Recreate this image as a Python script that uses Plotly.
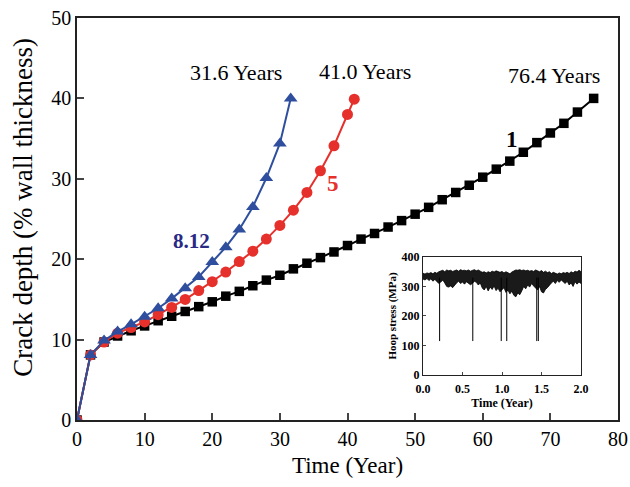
import plotly.graph_objects as go

# ---- main chart data ----
t_black = [0, 2, 4, 6, 8, 10, 12, 14, 16, 18, 20, 22, 24, 26, 28, 30, 32, 34, 36, 38,
           40, 42, 44, 46, 48, 50, 52, 54, 56, 58, 60, 62, 64, 66, 68, 70, 72, 74, 76.4]
d_black = [0, 8.1, 9.7, 10.45, 11.1, 11.7, 12.35, 12.9, 13.5, 14.1, 14.7, 15.4, 16.0, 16.7,
           17.4, 18.0, 18.8, 19.5, 20.2, 20.9, 21.7, 22.5, 23.2, 24.0, 24.8, 25.6, 26.45,
           27.4, 28.3, 29.2, 30.2, 31.2, 32.2, 33.3, 34.5, 35.7, 36.9, 38.3, 40.0]

t_red = [0, 2, 4, 6, 8, 10, 12, 14, 16, 18, 20, 22, 24, 26, 28, 30, 32, 34, 36, 38, 40, 41.0]
d_red = [0, 8.1, 9.7, 10.8, 11.5, 12.2, 13.1, 14.0, 15.0, 16.1, 17.2, 18.4, 19.7, 21.0,
         22.5, 24.2, 26.1, 28.3, 31.0, 34.1, 38.0, 39.9]

t_blue = [0, 2, 4, 6, 8, 10, 12, 14, 16, 18, 20, 22, 24, 26, 28, 30, 31.6]
d_blue = [0, 8.1, 9.9, 11.0, 11.9, 12.85, 13.9, 15.1, 16.4, 17.8, 19.65, 21.5, 23.7,
          26.5, 30.1, 34.4, 40.0]

x_ticks = [0, 10, 20, 30, 40, 50, 60, 70, 80]
y_ticks = [0, 10, 20, 30, 40, 50]

# ---- inset data (hoop stress envelope) ----
inset_t = [i * 0.025 for i in range(81)]
stress_upper = [345, 342, 346, 344, 347, 343, 348, 345, 350,
                352, 355, 350, 356, 353, 355, 351, 354,
                356, 352, 357, 354, 355, 353, 356, 352,
                355, 357, 353, 356, 352, 348, 350, 346,
                350, 347, 352, 349, 353, 350, 348, 351,
                346, 350, 347, 343, 349, 352, 356, 355,
                357, 354, 356, 353, 355, 352, 354, 351,
                356, 353, 350, 354, 348, 352, 347, 350,
                344, 348, 345, 342, 346, 343, 347, 345,
                348, 344, 350, 346, 352, 349, 355, 350]
stress_lower = [325, 322, 327, 320, 326, 318, 324, 316, 310,
                315, 322, 312, 300, 298, 302, 296, 305,
                312, 318, 310, 315, 308, 316, 312, 306,
                310, 318, 314, 305, 312, 295, 288, 300,
                285, 298, 290, 302, 286, 294, 282, 290,
                296, 280, 288, 275, 284, 270, 265, 278,
                272, 285, 300, 292, 305, 298, 310, 302,
                295, 288, 300, 282, 278, 290, 296, 305,
                312, 318, 310, 320, 314, 322, 316, 310,
                318, 305, 312, 300, 316, 308, 315, 310]
spike_t = [0.21, 0.63, 0.99, 1.06, 1.44, 1.46]
spike_top = [330, 330, 330, 330, 330, 330]
spike_low = [115, 115, 115, 115, 115, 115]

BLUE = "#2f4f9e"
RED = "#e5302b"
NAVY = "#2a2a86"
SERIF = "Liberation Serif, Times New Roman, serif"

fig = go.Figure()
fig.add_trace(go.Scatter(x=t_black, y=d_black, mode="lines+markers",
                         line=dict(color="black", width=2),
                         marker=dict(symbol="square", size=9.5, color="black"),
                         showlegend=False))
fig.add_trace(go.Scatter(x=t_red, y=d_red, mode="lines+markers",
                         line=dict(color=RED, width=2),
                         marker=dict(symbol="circle", size=11, color=RED),
                         showlegend=False))
fig.add_trace(go.Scatter(x=t_blue, y=d_blue, mode="lines+markers",
                         line=dict(color=BLUE, width=2),
                         marker=dict(symbol="triangle-up", size=12, color=BLUE),
                         showlegend=False))

# inset traces
fig.add_trace(go.Scatter(x=inset_t, y=stress_lower, mode="lines",
                         line=dict(color="black", width=0.8),
                         xaxis="x2", yaxis="y2", showlegend=False))
fig.add_trace(go.Scatter(x=inset_t, y=stress_upper, mode="lines",
                         line=dict(color="black", width=0.8), fill="tonexty",
                         fillcolor="#1a1a1a",
                         xaxis="x2", yaxis="y2", showlegend=False))
sx, sy = [], []
for ti, top, low in zip(spike_t, spike_top, spike_low):
    sx += [ti, ti, None]
    sy += [top, low, None]
fig.add_trace(go.Scatter(x=sx, y=sy, mode="lines", line=dict(color="black", width=1),
                         xaxis="x2", yaxis="y2", showlegend=False))

# annotations
ann = [
    dict(x=23.5, y=43.2, text="31.6 Years", font=dict(size=22, color="black")),
    dict(x=42.6, y=43.4, text="41.0 Years", font=dict(size=22, color="black")),
    dict(x=70.5, y=42.9, text="76.4 Years", font=dict(size=22, color="black")),
    dict(x=16.9, y=22.3, text="<b>8.12</b>", font=dict(size=21, color=NAVY)),
    dict(x=37.9, y=29.4, text="<b>5</b>", font=dict(size=23, color=RED)),
    dict(x=64.3, y=34.9, text="<b>1</b>", font=dict(size=23, color="black")),
]
for a in ann:
    a.update(xref="x", yref="y", showarrow=False, font=dict(family=SERIF, **a["font"]))
ann.append(dict(xref="paper", yref="paper", x=-0.1, y=0.53, xanchor="center", yanchor="middle",
                textangle=-90, showarrow=False, text="Crack depth (% wall thickness)",
                font=dict(family=SERIF, size=27, color="black")))

fig.update_layout(
    width=630, height=487,
    margin=dict(l=77, r=12, t=18, b=67),
    paper_bgcolor="white", plot_bgcolor="white",
    font=dict(family=SERIF, color="black"),
    annotations=ann,
    xaxis=dict(range=[0, 80], tickvals=x_ticks, ticks="inside", ticklen=7, tickwidth=1.5,
               showline=True, linecolor="#222", linewidth=1.5, mirror=True,
               showgrid=False, zeroline=False, automargin=False,
               tickfont=dict(size=20, family=SERIF),
               title=dict(text="Time (Year)", font=dict(size=23, family=SERIF), standoff=8)),
    yaxis=dict(range=[0, 50], tickvals=y_ticks, ticks="inside", ticklen=7, tickwidth=1.5,
               showline=True, linecolor="#222", linewidth=1.5, mirror=True,
               showgrid=False, zeroline=False, automargin=False,
               tickfont=dict(size=20, family=SERIF)),
    xaxis2=dict(domain=[0.6396, 0.9316], anchor="y2", range=[0, 2],
                tickvals=[0, 0.5, 1.0, 1.5, 2.0], ticktext=["0.0", "0.5", "1.0", "1.5", "2.0"],
                ticks="inside", ticklen=3, showline=True, linecolor="#222", linewidth=1.2,
                mirror=True, showgrid=False, zeroline=False, automargin=False,
                ticklabelstandoff=3,
                tickfont=dict(size=12, family=SERIF, weight="bold"),
                title=dict(text="Time (Year)", font=dict(size=12, family=SERIF, weight="bold"),
                           standoff=0)),
    yaxis2=dict(domain=[0.112, 0.4055], anchor="x2", range=[0, 400],
                tickvals=[0, 100, 200, 300, 400],
                ticks="inside", ticklen=3, showline=True, linecolor="#222", linewidth=1.2,
                mirror=True, showgrid=False, zeroline=False, automargin=False,
                tickfont=dict(size=12, family=SERIF, weight="bold"),
                title=dict(text="Hoop stress (MPa)", font=dict(size=11, family=SERIF, weight="bold"),
                           standoff=2)),
)

fig.write_html("out.html")
